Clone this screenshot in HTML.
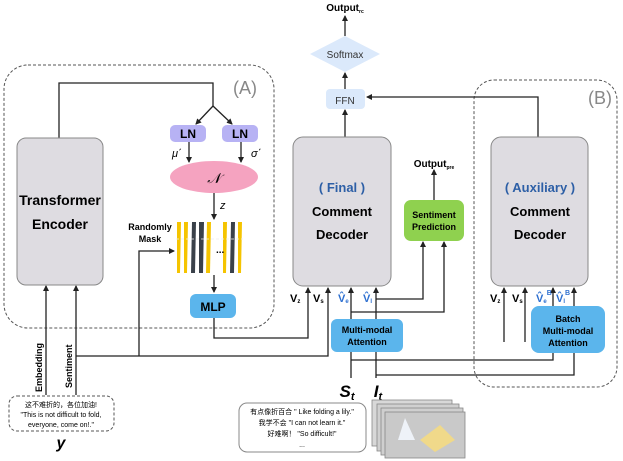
<!DOCTYPE html>
<html><head><meta charset="utf-8"><style>
html,body{margin:0;padding:0;background:#fff}
svg{display:block}
text{font-family:"Liberation Sans","Noto Sans CJK SC",sans-serif}
</style></head><body>
<svg width="623" height="461" viewBox="0 0 623 461" xmlns="http://www.w3.org/2000/svg">
<defs>
<marker id="a" markerWidth="6" markerHeight="6" refX="5" refY="3" orient="auto" markerUnits="userSpaceOnUse"><path d="M0,0 L6,3 L0,6 z" fill="#222"/></marker>
</defs>
<g fill="none" stroke="#555" stroke-dasharray="3,2" stroke-width="1">
<rect x="4" y="65" width="270" height="263" rx="24"/>
<rect x="474" y="80" width="143" height="307" rx="20"/>
<rect x="9" y="396" width="105" height="35" rx="8"/>
</g>
<text x="245" y="94" font-size="18" fill="#888" text-anchor="middle">(A)</text>
<text x="600" y="104" font-size="18" fill="#888" text-anchor="middle">(B)</text>

<g stroke="#222" stroke-width="1.3" fill="none">
<!-- encoder top to LN -->
<path d="M59,138 V83 H213 V106"/>
<path d="M213,106 L196,124" marker-end="url(#a)"/>
<path d="M213,106 L232,124" marker-end="url(#a)"/>
<path d="M189,141 V162" marker-end="url(#a)"/>
<path d="M241,141 V162" marker-end="url(#a)"/>
<path d="M214,193 V219" marker-end="url(#a)"/>
<path d="M214,275 V292" marker-end="url(#a)"/>
<path d="M139,356 V251 H174" marker-end="url(#a)"/>
<!-- inputs -->
<path d="M46,395 V286" marker-end="url(#a)"/>
<path d="M76,395 V286" marker-end="url(#a)"/>
<path d="M76,356 H328 V288" marker-end="url(#a)"/>
<path d="M214,318 V338 H308 V288" marker-end="url(#a)"/>
<!-- MMA lines -->
<path d="M351,378 V288" marker-end="url(#a)"/>
<path d="M376,378 V288" marker-end="url(#a)"/>
<path d="M376,299 H423 V242" marker-end="url(#a)"/>
<path d="M351,312 H444 V242" marker-end="url(#a)"/>
<path d="M434,200 V170" marker-end="url(#a)"/>
<path d="M351,360 H553 V288" marker-end="url(#a)"/>
<path d="M376,375 H574 V288" marker-end="url(#a)"/>
<path d="M504,342 V288" marker-end="url(#a)"/>
<path d="M525,342 V288" marker-end="url(#a)"/>
<!-- top -->
<path d="M345,137 V110" marker-end="url(#a)"/>
<path d="M345,89 V73" marker-end="url(#a)"/>
<path d="M345,36 V16" marker-end="url(#a)"/>
<path d="M538,137 V97 H367" marker-end="url(#a)"/>
</g>

<!-- encoder -->
<rect x="17" y="138" width="86" height="147" rx="9" fill="#dedce1" stroke="#888"/>
<text x="60" y="205" font-size="14" font-weight="bold" text-anchor="middle">Transformer</text>
<text x="60" y="229" font-size="14" font-weight="bold" text-anchor="middle">Encoder</text>
<rect x="170" y="125" width="36" height="17" rx="5" fill="#b7b2f4"/>
<rect x="222" y="125" width="36" height="17" rx="5" fill="#b7b2f4"/>
<text x="188" y="138" font-size="12" font-weight="bold" text-anchor="middle">LN</text>
<text x="240" y="138" font-size="12" font-weight="bold" text-anchor="middle">LN</text>
<text x="172" y="157" font-size="11" font-style="italic">μ΄</text>
<text x="251" y="157" font-size="11" font-style="italic">σ΄</text>
<ellipse cx="214" cy="177" rx="44" ry="16" fill="#f5a3c0"/>
<text x="214" y="183" font-size="14" font-style="italic" font-family="Liberation Serif" text-anchor="middle">𝒩</text>
<text x="220" y="209" font-size="11" font-style="italic">z</text>
<text x="150" y="230" font-size="9" font-weight="bold" text-anchor="middle">Randomly</text>
<text x="150" y="242" font-size="9" font-weight="bold" text-anchor="middle">Mask</text>
<g>
<polygon points="177,222 181,222 180,273 177,273" fill="#f5c400"/>
<polygon points="184,222 188,222 187,273 184,273" fill="#f5c400"/>
<polygon points="192,222 196,222 195,273 191,273" fill="#3a414a"/>
<polygon points="199,222 204,222 203,273 199,273" fill="#3a414a"/>
<polygon points="207,222 211,222 210,273 206,273" fill="#f5c400"/>
<polygon points="223,222 227,222 226,273 223,273" fill="#f5c400"/>
<polygon points="231,222 235,222 234,273 230,273" fill="#3a414a"/>
<polygon points="238,222 242,222 241,273 238,273" fill="#f5c400"/>
<line x1="176" y1="239" x2="243" y2="239" stroke="#eee" stroke-width="0.8" stroke-dasharray="3,2"/>
<text x="216" y="253" font-size="10" font-weight="bold">...</text>
</g>
<rect x="190" y="294" width="46" height="24" rx="6" fill="#5bb5ec"/>
<text x="213" y="311" font-size="12" font-weight="bold" text-anchor="middle">MLP</text>

<!-- Final decoder -->
<rect x="293" y="137" width="98" height="149" rx="10" fill="#dedce1" stroke="#888"/>
<text x="342" y="192" font-size="13" font-weight="bold" fill="#2d5fa6" text-anchor="middle">( Final )</text>
<text x="342" y="216" font-size="13" font-weight="bold" text-anchor="middle">Comment</text>
<text x="342" y="239" font-size="13" font-weight="bold" text-anchor="middle">Decoder</text>
<!-- Aux decoder -->
<rect x="491" y="137" width="97" height="149" rx="10" fill="#dedce1" stroke="#888"/>
<text x="540" y="192" font-size="13" font-weight="bold" fill="#2d5fa6" text-anchor="middle">( Auxiliary )</text>
<text x="540" y="216" font-size="13" font-weight="bold" text-anchor="middle">Comment</text>
<text x="540" y="239" font-size="13" font-weight="bold" text-anchor="middle">Decoder</text>
<!-- SP -->
<rect x="404" y="200" width="60" height="41" rx="7" fill="#8fd14f"/>
<text x="434" y="218" font-size="9" font-weight="bold" text-anchor="middle">Sentiment</text>
<text x="434" y="230" font-size="9" font-weight="bold" text-anchor="middle">Prediction</text>
<text x="434" y="167" font-size="10" font-weight="bold" text-anchor="middle">Output<tspan font-size="5" dy="2">pre</tspan></text>
<!-- top -->
<rect x="326" y="89" width="39" height="20" rx="4" fill="#dbe9fb"/>
<text x="345" y="104" font-size="10" fill="#333" text-anchor="middle">FFN</text>
<polygon points="310,54 345,36 380,54 345,72" fill="#dbe9fb"/>
<text x="345" y="58" font-size="10" fill="#333" text-anchor="middle">Softmax</text>
<text x="345" y="11" font-size="10" font-weight="bold" text-anchor="middle">Output<tspan font-size="5" dy="2">rc</tspan></text>

<!-- MMA -->
<rect x="331" y="319" width="72" height="33" rx="6" fill="#5bb5ec"/>
<text x="367" y="333" font-size="9" font-weight="bold" text-anchor="middle">Multi-modal</text>
<text x="367" y="345" font-size="9" font-weight="bold" text-anchor="middle">Attention</text>
<rect x="531" y="306" width="74" height="47" rx="8" fill="#5bb5ec"/>
<text x="568" y="322" font-size="9" font-weight="bold" text-anchor="middle">Batch</text>
<text x="568" y="334" font-size="9" font-weight="bold" text-anchor="middle">Multi-modal</text>
<text x="568" y="346" font-size="9" font-weight="bold" text-anchor="middle">Attention</text>

<!-- V labels -->
<g font-size="11" font-weight="bold">
<text x="290" y="302">V<tspan font-size="6" dy="1">z</tspan></text>
<text x="313" y="302">V<tspan font-size="6" dy="1">s</tspan></text>
<text x="338" y="302" fill="#2d6fd0">V̂<tspan font-size="6" dy="1">e</tspan></text>
<text x="363" y="302" fill="#2d6fd0">V̂<tspan font-size="6" dy="1">I</tspan></text>
<text x="490" y="302">V<tspan font-size="6" dy="1">z</tspan></text>
<text x="512" y="302">V<tspan font-size="6" dy="1">s</tspan></text>
<text x="536" y="302" fill="#2d6fd0">V̂<tspan font-size="6" dy="1">e</tspan><tspan font-size="7" dy="-8">B</tspan></text>
<text x="556" y="302" fill="#2d6fd0">V̂<tspan font-size="6" dy="1">I</tspan><tspan font-size="7" dy="-8">B</tspan></text>
</g>

<!-- bottom -->
<text transform="translate(42,392) rotate(-90)" font-size="9" font-weight="bold">Embedding</text>
<text transform="translate(72,388) rotate(-90)" font-size="9" font-weight="bold">Sentiment</text>
<text x="61" y="407" font-size="7" text-anchor="middle">这不难折的，各位加油!</text>
<text x="61" y="417" font-size="7" text-anchor="middle">"This is not difficult to fold,</text>
<text x="61" y="427" font-size="7" text-anchor="middle">everyone, come on!."</text>
<text x="61" y="448" font-size="16" font-weight="bold" font-style="italic" font-family="Liberation Serif" text-anchor="middle">y</text>
<text x="347" y="397" font-size="17" font-weight="bold" font-style="italic" font-family="Liberation Serif" text-anchor="middle">S<tspan font-size="11" dy="3">t</tspan></text>
<text x="378" y="397" font-size="17" font-weight="bold" font-style="italic" font-family="Liberation Serif" text-anchor="middle">I<tspan font-size="11" dy="3">t</tspan></text>
<rect x="239" y="403" width="127" height="49" rx="8" fill="#fff" stroke="#888"/>
<text x="302" y="414" font-size="7" text-anchor="middle">有点像折百合 " Like folding a lily."</text>
<text x="302" y="425" font-size="7" text-anchor="middle">我学不会 "I can not learn it."</text>
<text x="302" y="436" font-size="7" text-anchor="middle">好难啊！ "So difficult!"</text>
<text x="302" y="447" font-size="7" text-anchor="middle">...</text>
<g stroke="#888" stroke-width="0.8">
<rect x="372" y="400" width="80" height="46" fill="#d8d8d8"/>
<rect x="377" y="404" width="82" height="47" fill="#d0d0d0"/>
<rect x="381" y="408" width="82" height="47" fill="#cfcfcf"/>
<rect x="385" y="412" width="80" height="46" fill="#c9c9c9"/>
</g>
<polygon points="405,418 398,440 415,440" fill="#eef2f8"/>
<polygon points="420,440 440,425 455,440 435,452" fill="#f0d98a"/>
</svg>
</body></html>
